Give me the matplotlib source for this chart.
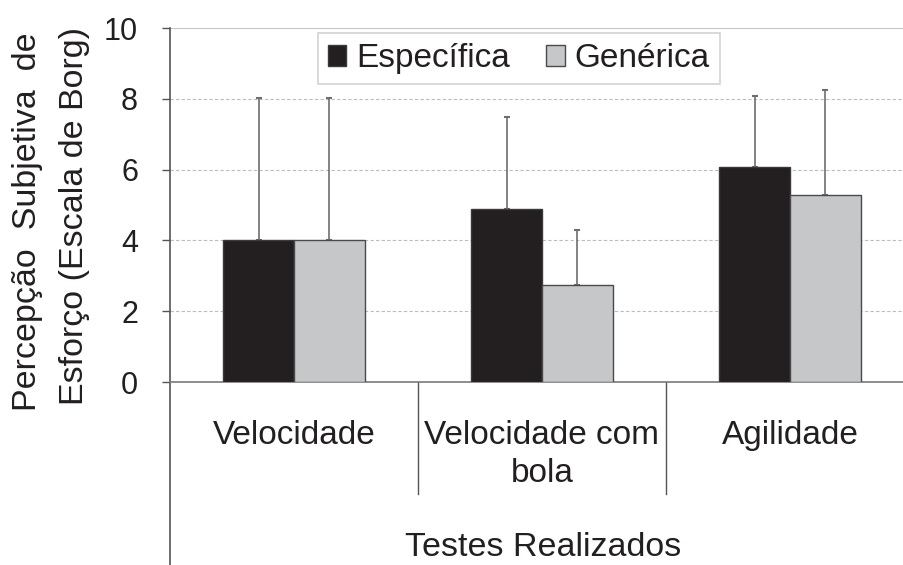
import numpy as np
import matplotlib.pyplot as plt

plt.rcParams['font.family'] = ['Liberation Sans', 'DejaVu Sans']

# data
categorias = ['Velocidade', 'Velocidade com\nbola', 'Agilidade']
especifica = [4.02, 4.90, 6.07]
generica = [4.02, 2.74, 5.28]
especifica_dp = [4.00, 2.59, 2.01]
generica_dp = [4.00, 1.55, 2.97]
yticks = [0, 2, 4, 6, 8, 10]

W, H = 904, 565
fig = plt.figure(figsize=(W / 100, H / 100), dpi=100)
ax = fig.add_axes([170 / W, 1 - 382 / H, 734 / W, 354 / H])

x = np.arange(len(categorias))
w = 0.285
txt = '#231f20'

ax.bar(x - w / 2, especifica, w, color='#231f20', edgecolor='#3a3a3a', linewidth=1, zorder=3, label='Específica')
ax.bar(x + w / 2, generica, w, color='#c6c7c9', edgecolor='#4a4a4a', linewidth=1, zorder=3, label='Genérica')

zeros = np.zeros(len(x))
ax.errorbar(x - w / 2, especifica, yerr=[zeros, especifica_dp], fmt='none', ecolor='#6e6e6e',
            elinewidth=1.2, capsize=2.5, capthick=1.5, zorder=2)
ax.errorbar(x + w / 2, generica, yerr=[zeros, generica_dp], fmt='none', ecolor='#6e6e6e',
            elinewidth=1.2, capsize=2.5, capthick=1.5, zorder=2)

ax.set_xlim(-0.5, 2.46)
ax.set_ylim(0, 10)
ax.set_yticks(yticks)
ax.set_yticklabels([str(t) for t in yticks], fontsize=22, color=txt)
ax.tick_params(axis='y', length=6, width=1, color='#555555', pad=17)
ax.set_xticks([])

for t in yticks[1:-1]:
    ax.axhline(t, color='#bdbdbd', lw=0.8, ls=(0, (3, 2)), zorder=1)
ax.axhline(10, color='#c4c4c4', lw=1.5, zorder=1)

for s in ['top', 'right', 'left']:
    ax.spines[s].set_visible(False)
ax.spines['bottom'].set_color('#7a7a7a')
ax.spines['bottom'].set_linewidth(1.2)
# y axis line running down past the category labels
ax.plot([0, 0], [1, -183 / 354], transform=ax.transAxes, color='#555555', lw=1.2, clip_on=False)
# separators between categories
for b in [0.5, 1.5]:
    ax.plot([b, b], [0, -112 / 354], transform=ax.get_xaxis_transform(), color='#555555', lw=1,
            clip_on=False)

for xi, c in zip(x, categorias):
    ax.text(xi, -38 / 354, c, transform=ax.get_xaxis_transform(), ha='center', va='top',
            fontsize=24, color=txt, linespacing=1.3)

fig.text(543 / W, 1 - 547 / H, 'Testes Realizados', ha='center', va='center', fontsize=24.5, color=txt)
fig.text(28 / W, 1 - 222 / H, 'Percepção  Subjetiva  de', rotation=90, ha='center', va='center',
         fontsize=24.5, color=txt)
fig.text(75 / W, 1 - 216 / H, 'Esforço (Escala de Borg)', rotation=90, ha='center', va='center',
         fontsize=24.5, color=txt)

leg = ax.legend(loc='upper center', bbox_to_anchor=(0.475, 0.985), ncol=2, fontsize=24,
                frameon=True, fancybox=False, handlelength=0.55, handleheight=0.55,
                handletextpad=0.3, columnspacing=1.1, borderpad=0.3, borderaxespad=0)
leg.get_frame().set_edgecolor('#c8c8c8')
leg.get_frame().set_linewidth(1.2)
for t in leg.get_texts():
    t.set_color(txt)

fig.savefig('out.png', dpi=100)
